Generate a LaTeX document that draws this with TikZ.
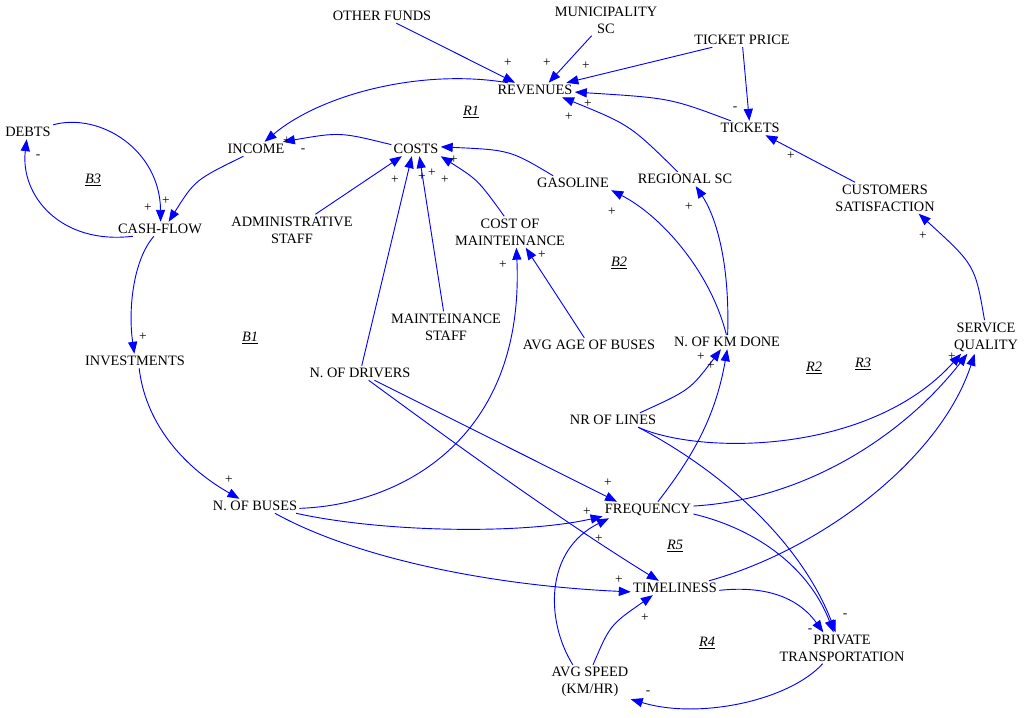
\documentclass[tikz,border=0pt]{standalone}
\usepackage{fontspec}
\setmainfont{Liberation Serif}
\usetikzlibrary{arrows.meta}

\begin{document}
\begin{tikzpicture}[
    x=0.025cm, y=-0.025cm,
    factor/.style={
        rectangle,
        inner sep=1.5pt,
        align=center,
        font=\fontsize{10.2}{12.1}\selectfont
    },
    looplabel/.style={
        inner sep=1pt,
        font=\fontsize{10.2}{12.1}\selectfont\itshape
    },
    polarity/.style={
        inner sep=0pt,
        font=\fontsize{9.5}{10}\selectfont
    },
    causal/.style={
        -{Triangle[length=8.5pt,width=6.5pt]},
        draw=blue,
        line width=0.65pt
    }
]
\useasboundingbox (0,0) rectangle (1024,717);

% Variabili
\node[factor] (funds) at (382,16) {OTHER FUNDS};
\node[factor] (munic) at (606,20) {MUNICIPALITY\\SC};
\node[factor] (price) at (742,40) {TICKET PRICE};
\node[factor] (rev) at (535,90) {REVENUES};
\node[factor] (tickets) at (750,128) {TICKETS};
\node[factor] (income) at (256,149) {INCOME};
\node[factor] (costs) at (416,149) {COSTS};
\node[factor] (debts) at (28,132) {DEBTS};
\node[factor] (cash) at (160,229) {CASH-FLOW};
\node[factor] (gas) at (573,183) {GASOLINE};
\node[factor] (regional) at (685,179) {REGIONAL SC};
\node[factor] (satisf) at (885,198) {CUSTOMERS\\SATISFACTION};
\node[factor] (admin) at (292,230) {ADMINISTRATIVE\\STAFF};
\node[factor] (costmaint) at (510,232) {COST OF\\MAINTEINANCE};
\node[factor] (invest) at (135,361) {INVESTMENTS};
\node[factor] (mstaff) at (446,327) {MAINTEINANCE\\STAFF};
\node[factor] (age) at (589,345) {AVG AGE OF BUSES};
\node[factor] (km) at (727,342) {N. OF KM DONE};
\node[factor] (quality) at (986,337) {SERVICE\\QUALITY};
\node[factor] (drivers) at (360,373) {N. OF DRIVERS};
\node[factor] (lines) at (613,420) {NR OF LINES};
\node[factor] (buses) at (255,506) {N. OF BUSES};
\node[factor] (freq) at (648,510) {FREQUENCY};
\node[factor] (timely) at (675,588) {TIMELINESS};
\node[factor] (private) at (842,648) {PRIVATE\\TRANSPORTATION};
\node[factor] (speed) at (590,682) {AVG SPEED\\(KM/HR)};

% Anelli
\node[looplabel] (r1) at (471,112) {\underline{R1}};
\node[looplabel] (b3) at (93,180) {\underline{B3}};
\node[looplabel] (b2) at (619,263) {\underline{B2}};
\node[looplabel] (b1) at (250,338) {\underline{B1}};
\node[looplabel] (r2) at (814,368) {\underline{R2}};
\node[looplabel] (r3) at (863,364) {\underline{R3}};
\node[looplabel] (r5) at (675,546) {\underline{R5}};
\node[looplabel] (r4) at (707,643) {\underline{R4}};

% Ricavi
\draw[causal] (funds) -- (rev.160);
\draw[causal] (munic) -- (rev.28);
\draw[causal] (price) -- (rev.13);
\draw[causal] (tickets) .. controls (670,98) .. (rev.-3);
\draw[causal] (regional) .. controls (630,125) .. (rev.-15);
\draw[causal] (price) -- (tickets);
\draw[causal] (satisf) -- (tickets.-25);
\draw[causal] (quality.95) .. controls (975,265) .. (satisf.-25);

% Cassa
\draw[causal] (rev.165) .. controls (420,68) and (320,95) .. (income.40);
\draw[causal] (costs.170) .. controls (340,132) .. (income.15);
\draw[causal] (income.-150) .. controls (195,180) .. (cash.40);
\draw[causal] (debts.north east) .. controls (100,112) and (160,150) .. (cash.85);
\draw[causal] (cash.-165) .. controls (60,245) and (20,195) .. (debts.-100);
\draw[causal] (cash.-130) .. controls (133,260) and (128,310) .. (invest.95);
\draw[causal] (invest.-60) .. controls (145,420) and (180,465) .. (buses.155);

% Costi
\draw[causal] (admin) -- (costs.-153);
\draw[causal] (drivers) -- (costs.-120);
\draw[causal] (mstaff) -- (costs.-65);
\draw[causal] (costmaint.110) .. controls (478,180) .. (costs.south east);
\draw[causal] (gas.160) .. controls (510,150) .. (costs.5);
\draw[causal] (age) -- (costmaint.-45);
\draw[causal] (buses.-3) .. controls (400,505) and (525,440) .. (costmaint.-68);

% Km
\draw[causal] (km.95) .. controls (710,270) and (660,215) .. (gas.south east);
\draw[causal] (km.85) .. controls (730,260) and (715,215) .. (regional.-34);
\draw[causal] (lines.15) .. controls (690,390) .. (km.-130);
\draw[causal] (freq.40) .. controls (690,460) and (715,420) .. (km.-88);

% Qualita
\draw[causal] (lines.-16) .. controls (700,455) and (870,455) .. (quality.-146);
\draw[causal] (freq.5) .. controls (800,500) and (900,440) .. (quality.-138);
\draw[causal] (timely.12) .. controls (820,550) and (940,460) .. (quality.-124);

% Servizio
\draw[causal] (drivers) -- (freq.165);
\draw[causal] (drivers.-40) .. controls (450,440) and (560,520) .. (timely.156);
\draw[causal] (buses.-10) .. controls (380,532) and (520,535) .. (freq.-172);
\draw[causal] (buses.-20) .. controls (350,555) and (480,585) .. (timely.-175);
\draw[causal] (speed.135) .. controls (545,620) and (545,550) .. (freq.-168);
\draw[causal] (speed.80) .. controls (610,625) .. (timely.-162);

% Trasporto privato
\draw[causal] (freq.-5) .. controls (760,530) and (810,570) .. (private.118);
\draw[causal] (lines.-16) .. controls (720,470) and (800,540) .. (private.112);
\draw[causal] (timely.-3) .. controls (770,585) and (800,600) .. (private.140);
\draw[causal] (private.-141) .. controls (790,700) and (700,720) .. (speed.south east);

% Polarita
\node[polarity] (p1) at (508,63) {+};
\node[polarity] (p2) at (547,63) {+};
\node[polarity] (p3) at (586,66) {+};
\node[polarity] (p4) at (588,104) {+};
\node[polarity] (p5) at (569,117) {+};
\node[polarity] (p6) at (735,109) {-};
\node[polarity] (p7) at (791,156) {+};
\node[polarity] (p8) at (923,236) {+};
\node[polarity] (p9) at (689,207) {+};
\node[polarity] (p10) at (612,212) {+};
\node[polarity] (p11) at (287,141) {+};
\node[polarity] (p12) at (303,151) {-};
\node[polarity] (p13) at (38,157) {-};
\node[polarity] (p14) at (148,208) {+};
\node[polarity] (p15) at (166,201) {+};
\node[polarity] (p16) at (143,337) {+};
\node[polarity] (p17) at (229,480) {+};
\node[polarity] (p18) at (395,180) {+};
\node[polarity] (p19) at (422,177) {+};
\node[polarity] (p20) at (432,173) {+};
\node[polarity] (p21) at (445,180) {+};
\node[polarity] (p22) at (454,160) {+};
\node[polarity] (p23) at (503,265) {+};
\node[polarity] (p24) at (542,255) {+};
\node[polarity] (p25) at (701,357) {+};
\node[polarity] (p26) at (711,366) {+};
\node[polarity] (p27) at (952,357) {+};
\node[polarity] (p28) at (608,483) {+};
\node[polarity] (p29) at (587,512) {+};
\node[polarity] (p30) at (599,539) {+};
\node[polarity] (p31) at (619,580) {+};
\node[polarity] (p32) at (645,618) {+};
\node[polarity] (p33) at (845,616) {-};
\node[polarity] (p34) at (810,631) {-};
\node[polarity] (p35) at (648,693) {-};

\end{tikzpicture}
\end{document}
